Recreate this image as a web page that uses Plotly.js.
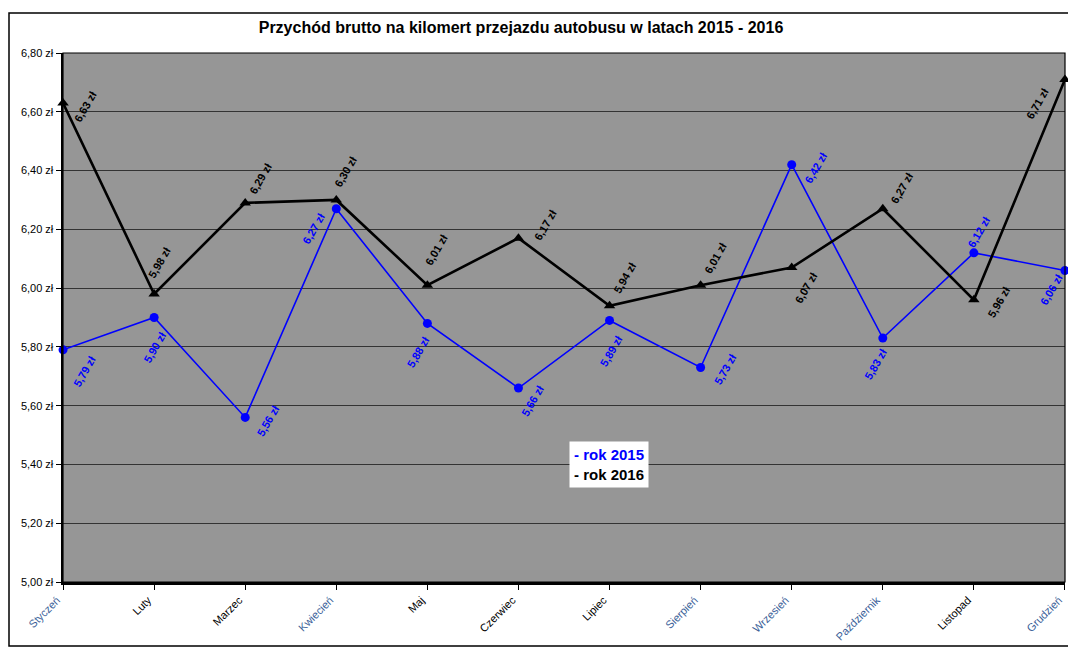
<!DOCTYPE html>
<html>
<head>
<meta charset="utf-8">
<script src="https://cdn.plot.ly/plotly-3.0.1.min.js"></script>
<style>html,body{margin:0;padding:0;background:#fff;}#chart{width:1068px;height:649px;}</style>
</head>
<body>
<div id="chart"></div>
<script>
// ---- data ----
var months = ["Styczeń","Luty","Marzec","Kwiecień","Maj","Czerwiec","Lipiec","Sierpień","Wrzesień","Październik","Listopad","Grudzień"];
var rok2015 = [5.79, 5.90, 5.56, 6.27, 5.88, 5.66, 5.89, 5.73, 6.42, 5.83, 6.12, 6.06];
var rok2016 = [6.63, 5.98, 6.29, 6.30, 6.01, 6.17, 5.94, 6.01, 6.07, 6.27, 5.96, 6.71];
var blueTickMonths = ["Styczeń","Kwiecień","Sierpień","Wrzesień","Październik","Grudzień"];

// ---- label offsets (px, screen: +x right, +y down) ----
var off2016 = [[22,4],[5,-31],[15,-24],[9,-28],[9,-35],[27,-13],[15,-28],[15,-27],[14,20],[19,-21],[25,2],[-27,24]];
var off2015 = [[21,22],[0,30],[23,4],[-23,20],[-9,29],[14,13],[2,31],[25,2],[24,3],[-7,26],[5,-21],[-13,19]];

function fmt(v){ return v.toFixed(2).replace('.', ',') + ' zł'; }

var idx = months.map(function(m,i){return i;});

var traces = [
  {
    x: idx, y: rok2015, type: 'scatter', mode: 'lines+markers', name: 'rok 2015',
    line: {color: '#0000ff', width: 1.6},
    marker: {color: '#0000ff', size: 9, symbol: 'circle'},
    cliponaxis: false, hoverinfo: 'y'
  },
  {
    x: idx, y: rok2016, type: 'scatter', mode: 'lines+markers', name: 'rok 2016',
    line: {color: '#000000', width: 2.6},
    marker: {color: '#000000', size: 10, symbol: 'triangle-up'},
    cliponaxis: false, hoverinfo: 'y'
  }
];

var annotations = [];
rok2016.forEach(function(v,i){
  annotations.push({x: i, y: v, xref: 'x', yref: 'y', text: '<b>' + fmt(v) + '</b>', showarrow: false,
    textangle: -60, xshift: off2016[i][0], yshift: -off2016[i][1],
    font: {family: 'Liberation Sans, Arial, sans-serif', size: 11, color: '#000000'}});
});
rok2015.forEach(function(v,i){
  annotations.push({x: i, y: v, xref: 'x', yref: 'y', text: '<b>' + fmt(v) + '</b>', showarrow: false,
    textangle: -60, xshift: off2015[i][0], yshift: -off2015[i][1],
    font: {family: 'Liberation Sans, Arial, sans-serif', size: 11, color: '#0000ff'}});
});
// legend box
annotations.push({
  xref: 'paper', yref: 'paper', x: (609-63)/1002, y: (582-464)/529,
  xanchor: 'center', yanchor: 'middle', align: 'left', showarrow: false,
  text: "<span style='color:#0000ff'><b>- rok 2015</b></span><br><b>- rok 2016</b>",
  font: {family: 'Liberation Sans, Arial, sans-serif', size: 15, color: '#000000'},
  bgcolor: '#ffffff', borderpad: 4
});

var ticktext = months.map(function(m){
  return blueTickMonths.indexOf(m) >= 0 ? "<span style='color:#3b5f99'>" + m + "</span>" : m;
});

var layout = {
  width: 1068, height: 649,
  margin: {l: 63, r: 3, t: 53, b: 67},
  paper_bgcolor: '#ffffff',
  plot_bgcolor: '#969696',
  showlegend: false,
  separators: ', ',
  font: {family: 'Liberation Sans, Arial, sans-serif', color: '#000000'},
  title: {
    text: '<b>Przychód brutto na kilomert przejazdu autobusu w latach 2015 - 2016</b>',
    font: {family: 'Liberation Sans, Arial, sans-serif', size: 16, color: '#000000'},
    x: 521/1068, xanchor: 'center', y: 1 - 27/649, yanchor: 'middle', xref: 'container', yref: 'container'
  },
  xaxis: {
    type: 'linear', range: [-0.0005, 11.0005], tickvals: idx, ticktext: ticktext,
    tickangle: -45, ticks: 'outside', ticklen: 5, tickcolor: '#000', tickwidth: 1,
    ticklabeloverflow: 'allow', ticklabelshift: -6,
    showgrid: false, zeroline: false, showline: true, linecolor: '#000', linewidth: 2.5,
    tickfont: {size: 11, color: '#000000'}, fixedrange: true, automargin: false
  },
  yaxis: {
    range: [5, 6.8], dtick: 0.2, tick0: 5, tickformat: '.2f', ticksuffix: ' zł',
    ticks: 'outside', ticklen: 5, tickcolor: '#000', tickwidth: 1,
    showgrid: true, gridcolor: '#333333', gridwidth: 1,
    zeroline: false, showline: true, linecolor: '#000', linewidth: 2.5,
    tickfont: {size: 11, color: '#000000'}, fixedrange: true
  },
  shapes: [
    {type: 'rect', xref: 'paper', yref: 'paper', x0: 0, x1: 1, y0: 0, y1: 1,
     line: {color: '#000', width: 1.2}, fillcolor: 'rgba(0,0,0,0)', layer: 'above'},
    {type: 'rect', xref: 'paper', yref: 'paper', x0: (9-63)/1002, x1: (1080-63)/1002,
     y0: (582-646)/529, y1: (582-13)/529,
     line: {color: '#000', width: 1.5}, fillcolor: 'rgba(0,0,0,0)'}
  ],
  annotations: annotations
};

Plotly.newPlot('chart', traces, layout, {displayModeBar: false, staticPlot: true});
</script>
</body>
</html>
